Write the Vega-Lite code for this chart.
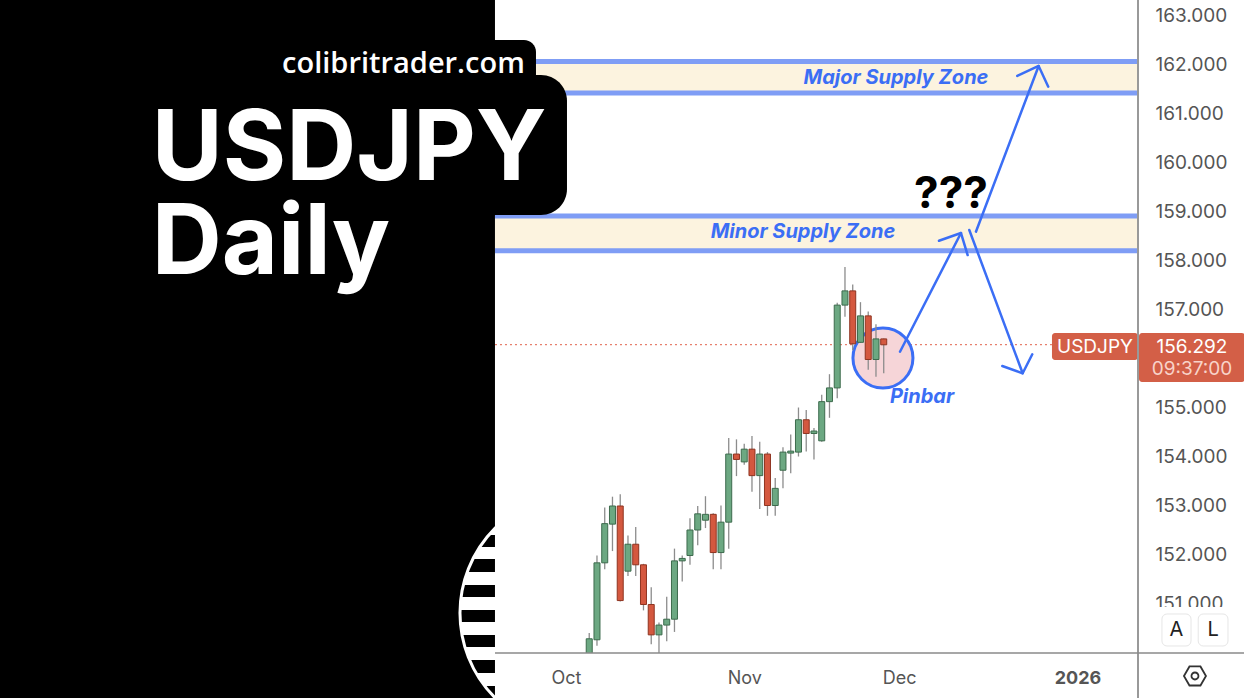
{
"$schema": "https://vega.github.io/schema/vega-lite/v6.json",
"width": 1138,
"height": 653,
"autosize": {"type": "none"},
"padding": {"left": 0, "top": 0, "right": 106, "bottom": 45},
"background": "white",
"config": {"view": {"stroke": null}, "font": "Inter"},
"datasets": {
"panel": [{"x": -73.03, "x2": -9.16, "y": 163.5, "y2": 149.0}],
"circle": [{"x": 1.806, "y": 150.816}],
"stripes": [
{"x": -17, "x2": -9.16, "y": 152.408, "y2": 152.163},
{"x": -17, "x2": -9.16, "y": 151.918, "y2": 151.653},
{"x": -17, "x2": -9.16, "y": 151.388, "y2": 151.143},
{"x": -17, "x2": -9.16, "y": 150.878, "y2": 150.633},
{"x": -17, "x2": -9.16, "y": 150.367, "y2": 150.122},
{"x": -17, "x2": -9.16, "y": 149.857, "y2": 149.592},
{"x": -17, "x2": -9.16, "y": 149.327, "y2": 149.0}
],
"chartbg": [{"x": -9.16, "x2": 73.81, "y": 163.5, "y2": 149.0}],
"zones": [
{"x": -9.16, "x2": 73.81, "y": 162.07, "y2": 161.43},
{"x": -9.16, "x2": 73.81, "y": 158.92, "y2": 158.21}
],
"zlines": [
{"x": -9.16, "x2": 73.81, "y": 162.07},
{"x": -9.16, "x2": 73.81, "y": 161.43},
{"x": -9.16, "x2": 73.81, "y": 158.92},
{"x": -9.16, "x2": 73.81, "y": 158.21}
],
"lastprice": [{"x": -9.16, "x2": 62.71, "y": 156.292}],
"pin": [{"x": 40.9, "y": 156.02}],
"candles": [
{"x": 0, "y": 147.9, "y2": 147.1, "lo": 146.6, "hi": 148.2, "dir": "down"},
{"x": 1, "y": 147.1, "y2": 147.3, "lo": 146.9, "hi": 147.8, "dir": "up"},
{"x": 2, "y": 147.3, "y2": 147.5, "lo": 146.6, "hi": 147.9, "dir": "up"},
{"x": 3, "y": 149.3, "y2": 150.29, "lo": 149.1, "hi": 150.41, "dir": "up"},
{"x": 4, "y": 150.27, "y2": 151.84, "lo": 150.15, "hi": 151.99, "dir": "up"},
{"x": 5, "y": 151.84, "y2": 152.64, "lo": 151.71, "hi": 152.97, "dir": "up"},
{"x": 6, "y": 152.63, "y2": 153.0, "lo": 152.08, "hi": 153.19, "dir": "up"},
{"x": 7, "y": 153.0, "y2": 151.07, "lo": 151.05, "hi": 153.24, "dir": "down"},
{"x": 8, "y": 151.67, "y2": 152.22, "lo": 151.57, "hi": 152.4, "dir": "up"},
{"x": 9, "y": 152.22, "y2": 151.8, "lo": 151.57, "hi": 152.57, "dir": "down"},
{"x": 10, "y": 151.8, "y2": 150.99, "lo": 150.87, "hi": 151.82, "dir": "down"},
{"x": 11, "y": 150.99, "y2": 150.37, "lo": 150.18, "hi": 151.34, "dir": "down"},
{"x": 12, "y": 150.37, "y2": 150.57, "lo": 149.4, "hi": 150.62, "dir": "up"},
{"x": 13, "y": 150.57, "y2": 150.69, "lo": 150.24, "hi": 151.15, "dir": "up"},
{"x": 14, "y": 150.69, "y2": 151.88, "lo": 150.43, "hi": 152.13, "dir": "up"},
{"x": 15, "y": 151.88, "y2": 151.93, "lo": 151.46, "hi": 151.99, "dir": "up"},
{"x": 16, "y": 151.99, "y2": 152.51, "lo": 151.8, "hi": 152.75, "dir": "up"},
{"x": 17, "y": 152.51, "y2": 152.84, "lo": 152.2, "hi": 153.0, "dir": "up"},
{"x": 18, "y": 152.71, "y2": 152.83, "lo": 152.55, "hi": 153.2, "dir": "up"},
{"x": 19, "y": 152.83, "y2": 152.05, "lo": 151.71, "hi": 152.85, "dir": "down"},
{"x": 20, "y": 152.05, "y2": 152.67, "lo": 151.71, "hi": 153.01, "dir": "up"},
{"x": 21, "y": 152.67, "y2": 154.06, "lo": 152.13, "hi": 154.39, "dir": "up"},
{"x": 22, "y": 154.06, "y2": 153.95, "lo": 153.61, "hi": 154.36, "dir": "down"},
{"x": 23, "y": 153.9, "y2": 154.16, "lo": 153.84, "hi": 154.27, "dir": "up"},
{"x": 24, "y": 154.16, "y2": 153.62, "lo": 153.29, "hi": 154.43, "dir": "down"},
{"x": 25, "y": 153.62, "y2": 154.06, "lo": 152.94, "hi": 154.31, "dir": "up"},
{"x": 26, "y": 154.06, "y2": 153.01, "lo": 152.8, "hi": 154.1, "dir": "down"},
{"x": 27, "y": 153.01, "y2": 153.36, "lo": 152.8, "hi": 153.57, "dir": "up"},
{"x": 28, "y": 153.73, "y2": 154.1, "lo": 153.36, "hi": 154.2, "dir": "up"},
{"x": 29, "y": 154.08, "y2": 154.12, "lo": 153.67, "hi": 154.46, "dir": "up"},
{"x": 30, "y": 154.1, "y2": 154.76, "lo": 154.01, "hi": 155.01, "dir": "up"},
{"x": 31, "y": 154.76, "y2": 154.48, "lo": 154.11, "hi": 154.96, "dir": "down"},
{"x": 32, "y": 154.48, "y2": 154.53, "lo": 153.95, "hi": 154.59, "dir": "up"},
{"x": 33, "y": 154.33, "y2": 155.13, "lo": 154.31, "hi": 155.27, "dir": "up"},
{"x": 34, "y": 155.13, "y2": 155.41, "lo": 154.8, "hi": 155.69, "dir": "up"},
{"x": 35, "y": 155.41, "y2": 157.1, "lo": 155.2, "hi": 157.15, "dir": "up"},
{"x": 36, "y": 157.1, "y2": 157.39, "lo": 156.86, "hi": 157.88, "dir": "up"},
{"x": 37, "y": 157.39, "y2": 156.31, "lo": 156.18, "hi": 157.52, "dir": "down"},
{"x": 38, "y": 156.34, "y2": 156.88, "lo": 156.33, "hi": 157.16, "dir": "up"},
{"x": 39, "y": 156.88, "y2": 155.99, "lo": 155.78, "hi": 156.97, "dir": "down"},
{"x": 40, "y": 155.99, "y2": 156.41, "lo": 155.64, "hi": 156.71, "dir": "up"},
{"x": 41, "y": 156.41, "y2": 156.29, "lo": 155.71, "hi": 156.42, "dir": "down"}
],
"arrows": [
{"seg": "a1", "k": 0, "x": 43.1, "y": 156.149},
{"seg": "a1", "k": 1, "x": 50.97, "y": 158.571},
{"seg": "h1", "k": 0, "x": 48.13, "y": 158.414},
{"seg": "h1", "k": 1, "x": 50.97, "y": 158.571},
{"seg": "h1", "k": 2, "x": 51.83, "y": 158.122},
{"seg": "a2", "k": 0, "x": 52.9, "y": 158.598},
{"seg": "a2", "k": 1, "x": 60.99, "y": 161.98},
{"seg": "h2", "k": 0, "x": 58.23, "y": 161.776},
{"seg": "h2", "k": 1, "x": 60.99, "y": 161.98},
{"seg": "h2", "k": 2, "x": 62.23, "y": 161.557},
{"seg": "a3", "k": 0, "x": 52.04, "y": 158.633},
{"seg": "a3", "k": 1, "x": 58.93, "y": 155.708},
{"seg": "h3", "k": 0, "x": 56.3, "y": 155.857},
{"seg": "h3", "k": 1, "x": 58.93, "y": 155.708},
{"seg": "h3", "k": 2, "x": 60.17, "y": 156.096}
],
"zonetext": [
{"x": 42.58, "y": 161.735, "t": "Major Supply Zone"},
{"x": 30.58, "y": 158.592, "t": "Minor Supply Zone"}
],
"qtext": [{"x": 49.68, "y": 159.347, "t": "???"}],
"pintext": [{"x": 45.94, "y": 155.224, "t": "Pinbar"}],
"box1": [{"x": -21.42, "x2": -3.87, "y": 162.51, "y2": 161.286}],
"box2": [{"x": -21.42, "x2": 0.13, "y": 161.796, "y2": 158.939}],
"site": [{"x": -20.97, "y": 162.02, "t": "colibritrader.com"}],
"title": [
{"x": -53.45, "y": 159.653, "t": "USDJPY"},
{"x": -53.45, "y": 157.735, "t": "Daily"}
],
"pricebox": [
{"x": 62.71, "x2": 73.81, "y": 156.531, "y2": 155.98},
{"x": 73.94, "x2": 87.6, "y": 156.531, "y2": 155.531}
],
"pricetext": [
{"x": 68.26, "y": 156.245, "t": "USDJPY"},
{"x": 80.77, "y": 156.245, "t": "156.292"}
],
"timetext": [{"x": 80.77, "y": 155.796, "t": "09:37:00"}],
"cover": [{"x": 73.94, "x2": 87.6, "y": 150.939, "y2": 150.0}],
"vborder": [{"x": 73.81, "y": 163.5, "y2": 149.0}],
"hborder": [{"x": -9.16, "x2": 87.6, "y": 150.0}],
"buttons": [
{"x": 76.9, "x2": 80.65, "y": 150.796, "y2": 150.143},
{"x": 81.58, "x2": 85.42, "y": 150.796, "y2": 150.143}
],
"buttontext": [
{"x": 78.77, "y": 150.469, "t": "A"},
{"x": 83.5, "y": 150.469, "t": "L"}
],
"gear": [{"x": 81.16, "y": 149.531}]
},
"encoding": {
"x": {"field": "x", "type": "quantitative",
"scale": {"domain": [-73.03, 73.81], "zero": false, "nice": false, "padding": 0},
"axis": {"values": [0, 23, 43, 66],
"labelExpr": "datum.value == 0 ? 'Oct' : datum.value == 23 ? 'Nov' : datum.value == 43 ? 'Dec' : '2026'",
"labelFontSize": 18, "labelColor": "#555555", "labelFont": "Inter",
"labelFontWeight": {"condition": {"test": "datum.value == 66", "value": "bold"}, "value": "normal"},
"labelPadding": 16, "ticks": false, "domain": false, "grid": false, "title": null, "zindex": 1,
"labelOverlap": false, "labelFlush": false, "labelBound": false}},
"y": {"field": "y", "type": "quantitative",
"scale": {"domain": [150, 163.3265], "zero": false, "nice": false, "padding": 0},
"axis": {"orient": "right", "values": [151, 152, 153, 154, 155, 157, 158, 159, 160, 161, 162, 163],
"format": ".3f", "labelFontSize": 19, "labelColor": "#555555", "labelFont": "Inter",
"labelPadding": 17, "ticks": false, "domain": false, "grid": false, "title": null, "zindex": 0,
"labelOverlap": false, "labelFlush": false}}
},
"layer": [
{"data": {"name": "panel"}, "mark": {"type": "rect", "fill": "black", "clip": false},
"encoding": {"x2": {"field": "x2"}, "y2": {"field": "y2"}}},
{"data": {"name": "circle"}, "mark": {"type": "point", "shape": "circle", "filled": true, "fill": "white", "opacity": 1, "size": 57600, "clip": false},
"encoding": {}},
{"data": {"name": "stripes"}, "mark": {"type": "rect", "fill": "black", "clip": false},
"encoding": {"x2": {"field": "x2"}, "y2": {"field": "y2"}}},
{"data": {"name": "circle"}, "mark": {"type": "point", "shape": "circle", "filled": false, "stroke": "white", "strokeWidth": 3, "opacity": 1, "size": 57600, "clip": false},
"encoding": {}},
{"data": {"name": "chartbg"}, "mark": {"type": "rect", "fill": "white", "clip": false},
"encoding": {"x2": {"field": "x2"}, "y2": {"field": "y2"}}},
{"data": {"name": "zones"}, "mark": {"type": "rect", "fill": "#fcf3df"},
"encoding": {"x2": {"field": "x2"}, "y2": {"field": "y2"}}},
{"data": {"name": "zlines"}, "mark": {"type": "rule", "stroke": "#7f9df5", "strokeWidth": 5},
"encoding": {"x2": {"field": "x2"}}},
{"data": {"name": "lastprice"}, "mark": {"type": "rule", "stroke": "#e0604a", "strokeWidth": 1, "strokeDash": [2, 3]},
"encoding": {"x2": {"field": "x2"}}},
{"data": {"name": "pin"}, "mark": {"type": "point", "shape": "circle", "filled": true, "fill": "#f6d5d8", "stroke": "#3b6ef5", "strokeWidth": 3, "opacity": 1, "size": 3600},
"encoding": {}},
{"data": {"name": "candles"}, "mark": {"type": "rule", "stroke": "#8c8c8c", "strokeWidth": 1.3, "clip": true},
"encoding": {"y": {"field": "lo", "type": "quantitative",
"scale": {"domain": [150, 163.3265], "zero": false, "nice": false, "padding": 0},
"axis": {"orient": "right", "values": [151, 152, 153, 154, 155, 157, 158, 159, 160, 161, 162, 163],
"format": ".3f", "labelFontSize": 19, "labelColor": "#555555", "labelFont": "Inter",
"labelPadding": 17, "ticks": false, "domain": false, "grid": false, "title": null, "zindex": 0,
"labelOverlap": false, "labelFlush": false}},
"y2": {"field": "hi"}}},
{"data": {"name": "candles"}, "mark": {"type": "bar", "size": 6, "strokeWidth": 1, "clip": true},
"encoding": {"y2": {"field": "y2"},
"color": {"field": "dir", "type": "nominal", "scale": {"domain": ["up", "down"], "range": ["#6ca882", "#d4583f"]}, "legend": null},
"stroke": {"field": "dir", "type": "nominal", "scale": {"domain": ["up", "down"], "range": ["#3d6b4d", "#8e3420"]}, "legend": null}}},
{"data": {"name": "arrows"}, "mark": {"type": "line", "stroke": "#3b6ef5", "strokeWidth": 2.5, "strokeCap": "round", "strokeJoin": "round"},
"encoding": {"detail": {"field": "seg", "type": "nominal"}, "order": {"field": "k", "type": "quantitative"}}},
{"data": {"name": "zonetext"}, "mark": {"type": "text", "fontSize": 20, "fontStyle": "italic", "fontWeight": "bold", "fill": "#3b6ef5", "align": "center", "baseline": "middle"},
"encoding": {"text": {"field": "t"}}},
{"data": {"name": "qtext"}, "mark": {"type": "text", "fontSize": 44, "fontWeight": "bold", "fill": "black", "align": "center", "baseline": "middle"},
"encoding": {"text": {"field": "t"}}},
{"data": {"name": "pintext"}, "mark": {"type": "text", "fontSize": 20, "fontStyle": "italic", "fontWeight": "bold", "fill": "#3b6ef5", "align": "center", "baseline": "middle"},
"encoding": {"text": {"field": "t"}}},
{"data": {"name": "box1"}, "mark": {"type": "rect", "fill": "black", "cornerRadius": 12},
"encoding": {"x2": {"field": "x2"}, "y2": {"field": "y2"}}},
{"data": {"name": "box2"}, "mark": {"type": "rect", "fill": "black", "cornerRadius": 26},
"encoding": {"x2": {"field": "x2"}, "y2": {"field": "y2"}}},
{"data": {"name": "site"}, "mark": {"type": "text", "font": "Open Sans", "fontSize": 29, "fontWeight": 600, "fill": "white", "align": "center", "baseline": "middle"},
"encoding": {"text": {"field": "t"}}},
{"data": {"name": "title"}, "mark": {"type": "text", "font": "Inter", "fontSize": 97, "fontWeight": "bold", "fill": "white", "align": "left", "baseline": "alphabetic"},
"encoding": {"text": {"field": "t"}}},
{"data": {"name": "cover"}, "mark": {"type": "rect", "fill": "white", "clip": false},
"encoding": {"x2": {"field": "x2"}, "y2": {"field": "y2"}}},
{"data": {"name": "pricebox"}, "mark": {"type": "rect", "fill": "#d35f47", "cornerRadius": 3, "clip": false},
"encoding": {"x2": {"field": "x2"}, "y2": {"field": "y2"}}},
{"data": {"name": "pricetext"}, "mark": {"type": "text", "fontSize": 19, "fill": "white", "align": "center", "baseline": "middle", "clip": false},
"encoding": {"text": {"field": "t"}}},
{"data": {"name": "timetext"}, "mark": {"type": "text", "fontSize": 19, "fill": "#f8d3c9", "align": "center", "baseline": "middle", "clip": false},
"encoding": {"text": {"field": "t"}}},
{"data": {"name": "vborder"}, "mark": {"type": "rule", "stroke": "#999999", "strokeWidth": 2, "clip": false},
"encoding": {"y2": {"field": "y2"}}},
{"data": {"name": "hborder"}, "mark": {"type": "rule", "stroke": "#8a8a8a", "strokeWidth": 1.5, "clip": false},
"encoding": {"x2": {"field": "x2"}}},
{"data": {"name": "buttons"}, "mark": {"type": "rect", "fill": "white", "stroke": "#e6e6e6", "strokeWidth": 1, "cornerRadius": 5, "clip": false},
"encoding": {"x2": {"field": "x2"}, "y2": {"field": "y2"}}},
{"data": {"name": "buttontext"}, "mark": {"type": "text", "fontSize": 20, "fill": "#222222", "align": "center", "baseline": "middle", "clip": false},
"encoding": {"text": {"field": "t"}}},
{"data": {"name": "gear"}, "mark": {"type": "point", "shape": "M-1,0L-0.5,-0.866L0.5,-0.866L1,0L0.5,0.866L-0.5,0.866Z", "filled": false, "stroke": "#333333", "strokeWidth": 1.8, "opacity": 1, "size": 484, "clip": false},
"encoding": {}},
{"data": {"name": "gear"}, "mark": {"type": "point", "shape": "circle", "filled": false, "stroke": "#333333", "strokeWidth": 1.8, "opacity": 1, "size": 49, "clip": false},
"encoding": {}}
]
}
